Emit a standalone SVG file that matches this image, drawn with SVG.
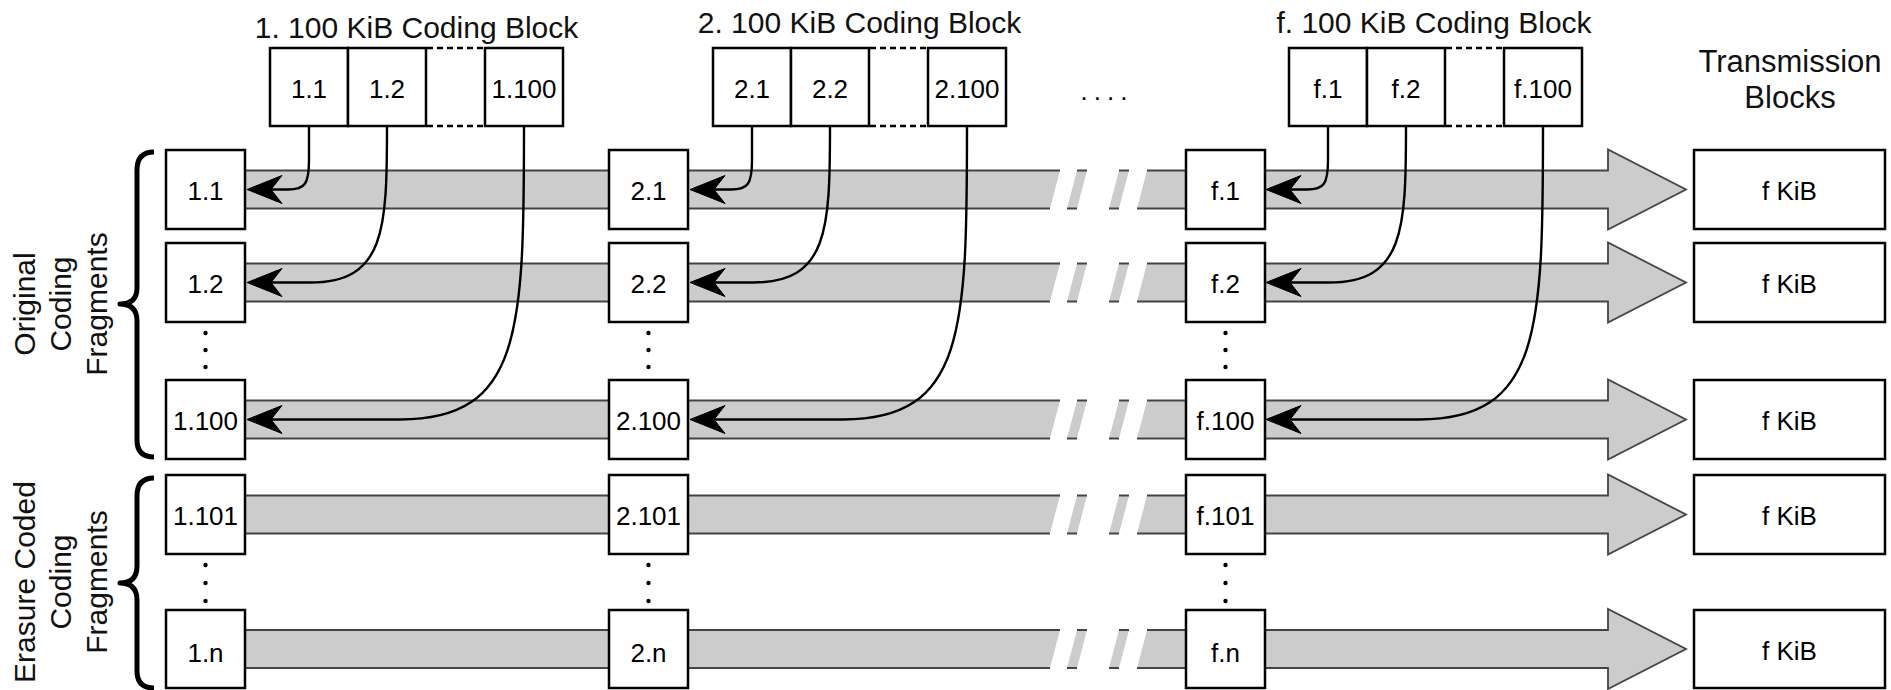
<svg xmlns="http://www.w3.org/2000/svg" xmlns:xlink="http://www.w3.org/1999/xlink" width="1891" height="690" viewBox="0 0 1891 690">
<style>
.box{fill:#fff;stroke:#000;stroke-width:2.5}
.t{font-family:"Liberation Sans",Arial,sans-serif;font-size:26px;text-anchor:middle;fill:#000}
.title{font-size:30px;fill:#111}
.tb{font-size:31px;fill:#111}
.side{font-size:30px;fill:#111}
.band{fill:#ccc;stroke:none}
.edge{fill:none;stroke:#444;stroke-width:1.8}
.conn{fill:none;stroke:#000;stroke-width:2.4;marker-end:url(#ah)}
.dash{fill:none;stroke:#000;stroke-width:2.5;stroke-dasharray:6 4}
.brace{fill:none;stroke:#000;stroke-width:5;stroke-linejoin:round}
.dot{fill:#000}
</style>
<defs>
<marker id="ah" markerUnits="userSpaceOnUse" viewBox="-38 -17 42 34" markerWidth="42" markerHeight="34" refX="-24" refY="0" orient="auto" overflow="visible">
<path d="M0,0 L-35,-14 L-24,0 L-35,14 Z" fill="#000" stroke="#000" stroke-width="1" stroke-linejoin="miter"/>
</marker>
<g id="band">
<polygon class="band" points="200,-19 1060,-19 1050,19 200,19"/>
<polygon class="band" points="1077,-19 1087,-19 1077,19 1067,19"/>
<polygon class="band" points="1119,-19 1129,-19 1119,19 1109,19"/>
<polygon class="band" points="1147,-19 1608,-19 1608,-40 1686,0 1608,40 1608,19 1137,19"/>
<path class="edge" d="M200,-19 H1060 M200,19 H1050 M1077,-19 H1087 M1067,19 H1077 M1119,-19 H1129 M1109,19 H1119 M1147,-19 H1608 V-40 L1686,0 L1608,40 V19 H1137"/>
</g>
</defs>
<rect width="1891" height="690" fill="#fff"/>

<g id="bands">
<use xlink:href="#band" href="#band" y="189.5"/>
<use xlink:href="#band" href="#band" y="282.5"/>
<use xlink:href="#band" href="#band" y="419.5"/>
<use xlink:href="#band" href="#band" y="514.5"/>
<use xlink:href="#band" href="#band" y="649"/>
</g>

<!-- side labels and braces -->
<g id="label-original">
<text class="t side" x="35" y="304" transform="rotate(-90 35 304)">Original</text>
<text class="t side" x="71" y="304" transform="rotate(-90 71 304)">Coding</text>
<text class="t side" x="107" y="304" transform="rotate(-90 107 304)">Fragments</text>
<path class="brace" d="M154,152 Q137,152 137,170 L137,288 Q137,304 120,304 Q137,304 137,321 L137,440 Q137,457 154,457"/>
</g>
<g id="label-erasure">
<text class="t side" x="35" y="582" transform="rotate(-90 35 582)">Erasure Coded</text>
<text class="t side" x="71" y="582" transform="rotate(-90 71 582)">Coding</text>
<text class="t side" x="107" y="582" transform="rotate(-90 107 582)">Fragments</text>
<path class="brace" d="M154,478 Q137,478 137,496 L137,566 Q137,583 120,583 Q137,583 137,600 L137,671 Q137,688 154,688"/>
</g>

<!-- top coding blocks -->
<g id="block1">
<text class="t title" x="416.5" y="38">1. 100 KiB Coding Block</text>
<g id="c1-1"><rect class="box" x="270" y="48" width="78" height="78"/><text class="t" x="309" y="98">1.1</text></g>
<g id="c1-2"><rect class="box" x="348" y="48" width="78" height="78"/><text class="t" x="387" y="98">1.2</text></g>
<path class="dash" d="M427,48 H484 M427,126 H484"/>
<g id="c1-100"><rect class="box" x="485" y="48" width="78" height="78"/><text class="t" x="524" y="98">1.100</text></g>
</g>
<g id="block2">
<text class="t title" x="859.5" y="33">2. 100 KiB Coding Block</text>
<g id="c2-1"><rect class="box" x="713" y="48" width="78" height="78"/><text class="t" x="752" y="98">2.1</text></g>
<g id="c2-2"><rect class="box" x="791" y="48" width="78" height="78"/><text class="t" x="830" y="98">2.2</text></g>
<path class="dash" d="M870,48 H927 M870,126 H927"/>
<g id="c2-100"><rect class="box" x="928" y="48" width="78" height="78"/><text class="t" x="967" y="98">2.100</text></g>
</g>
<g id="ellipsis"><text class="t" x="1107" y="100" style="letter-spacing:6px">....</text></g>
<g id="blockf">
<text class="t title" x="1434" y="33">f. 100 KiB Coding Block</text>
<g id="cf-1"><rect class="box" x="1289" y="48" width="78" height="78"/><text class="t" x="1328" y="98">f.1</text></g>
<g id="cf-2"><rect class="box" x="1367" y="48" width="78" height="78"/><text class="t" x="1406" y="98">f.2</text></g>
<path class="dash" d="M1446,48 H1503 M1446,126 H1503"/>
<g id="cf-100"><rect class="box" x="1504" y="48" width="78" height="78"/><text class="t" x="1543" y="98">f.100</text></g>
</g>

<!-- fragment boxes column 1 -->
<g id="f1-1"><rect class="box" x="166" y="150" width="79" height="79"/><text class="t" x="205.5" y="200">1.1</text></g>
<g id="f1-2"><rect class="box" x="166" y="243" width="79" height="79"/><text class="t" x="205.5" y="293">1.2</text></g>
<g id="f1-100"><rect class="box" x="166" y="380" width="79" height="79"/><text class="t" x="205.5" y="430">1.100</text></g>
<g id="f1-101"><rect class="box" x="166" y="475" width="79" height="79"/><text class="t" x="205.5" y="525">1.101</text></g>
<g id="f1-n"><rect class="box" x="166" y="610" width="79" height="78"/><text class="t" x="205.5" y="662">1.n</text></g>
<!-- column 2 -->
<g id="f2-1"><rect class="box" x="609" y="150" width="79" height="79"/><text class="t" x="648.5" y="200">2.1</text></g>
<g id="f2-2"><rect class="box" x="609" y="243" width="79" height="79"/><text class="t" x="648.5" y="293">2.2</text></g>
<g id="f2-100"><rect class="box" x="609" y="380" width="79" height="79"/><text class="t" x="648.5" y="430">2.100</text></g>
<g id="f2-101"><rect class="box" x="609" y="475" width="79" height="79"/><text class="t" x="648.5" y="525">2.101</text></g>
<g id="f2-n"><rect class="box" x="609" y="610" width="79" height="78"/><text class="t" x="648.5" y="662">2.n</text></g>
<!-- column f -->
<g id="ff-1"><rect class="box" x="1186" y="150" width="79" height="79"/><text class="t" x="1225.5" y="200">f.1</text></g>
<g id="ff-2"><rect class="box" x="1186" y="243" width="79" height="79"/><text class="t" x="1225.5" y="293">f.2</text></g>
<g id="ff-100"><rect class="box" x="1186" y="380" width="79" height="79"/><text class="t" x="1225.5" y="430">f.100</text></g>
<g id="ff-101"><rect class="box" x="1186" y="475" width="79" height="79"/><text class="t" x="1225.5" y="525">f.101</text></g>
<g id="ff-n"><rect class="box" x="1186" y="610" width="79" height="78"/><text class="t" x="1225.5" y="662">f.n</text></g>

<!-- vertical dots -->
<g id="vdots">
<circle class="dot" cx="205.5" cy="333" r="2.2"/><circle class="dot" cx="205.5" cy="350" r="2.2"/><circle class="dot" cx="205.5" cy="367" r="2.2"/>
<circle class="dot" cx="205.5" cy="565" r="2.2"/><circle class="dot" cx="205.5" cy="583" r="2.2"/><circle class="dot" cx="205.5" cy="601" r="2.2"/>
<circle class="dot" cx="648.5" cy="333" r="2.2"/><circle class="dot" cx="648.5" cy="350" r="2.2"/><circle class="dot" cx="648.5" cy="367" r="2.2"/>
<circle class="dot" cx="648.5" cy="565" r="2.2"/><circle class="dot" cx="648.5" cy="583" r="2.2"/><circle class="dot" cx="648.5" cy="601" r="2.2"/>
<circle class="dot" cx="1225.5" cy="333" r="2.2"/><circle class="dot" cx="1225.5" cy="350" r="2.2"/><circle class="dot" cx="1225.5" cy="367" r="2.2"/>
<circle class="dot" cx="1225.5" cy="565" r="2.2"/><circle class="dot" cx="1225.5" cy="583" r="2.2"/><circle class="dot" cx="1225.5" cy="601" r="2.2"/>
</g>

<!-- transmission blocks -->
<g id="tb-title">
<text class="t tb" x="1790" y="72">Transmission</text>
<text class="t tb" x="1790" y="108">Blocks</text>
</g>
<g id="tb1"><rect class="box" x="1694" y="150" width="191" height="79"/><text class="t" x="1789.5" y="200">f KiB</text></g>
<g id="tb2"><rect class="box" x="1694" y="243" width="191" height="79"/><text class="t" x="1789.5" y="293">f KiB</text></g>
<g id="tb3"><rect class="box" x="1694" y="380" width="191" height="79"/><text class="t" x="1789.5" y="430">f KiB</text></g>
<g id="tb4"><rect class="box" x="1694" y="475" width="191" height="79"/><text class="t" x="1789.5" y="525">f KiB</text></g>
<g id="tb5"><rect class="box" x="1694" y="610" width="191" height="78"/><text class="t" x="1789.5" y="660">f KiB</text></g>

<!-- connectors -->
<g id="connectors">
<g id="conn-col1">
<path class="conn" d="M309,126 L309,160 C309,184 305,189.5 288,189.5 L271,189.5"/>
<path class="conn" d="M387,126 C387,230 385,282.5 310,282.5 L271,282.5"/>
<path class="conn" d="M524,126 C524,330 522,419.5 400,419.5 L271,419.5"/>
</g>
<g id="conn-col2" transform="translate(443,0)">
<path class="conn" d="M309,126 L309,160 C309,184 305,189.5 288,189.5 L271,189.5"/>
<path class="conn" d="M387,126 C387,230 385,282.5 310,282.5 L271,282.5"/>
<path class="conn" d="M524,126 C524,330 522,419.5 400,419.5 L271,419.5"/>
</g>
<g id="conn-colf" transform="translate(1019,0)">
<path class="conn" d="M309,126 L309,160 C309,184 305,189.5 288,189.5 L271,189.5"/>
<path class="conn" d="M387,126 C387,230 385,282.5 310,282.5 L271,282.5"/>
<path class="conn" d="M524,126 C524,330 522,419.5 400,419.5 L271,419.5"/>
</g>
</g>
</svg>
